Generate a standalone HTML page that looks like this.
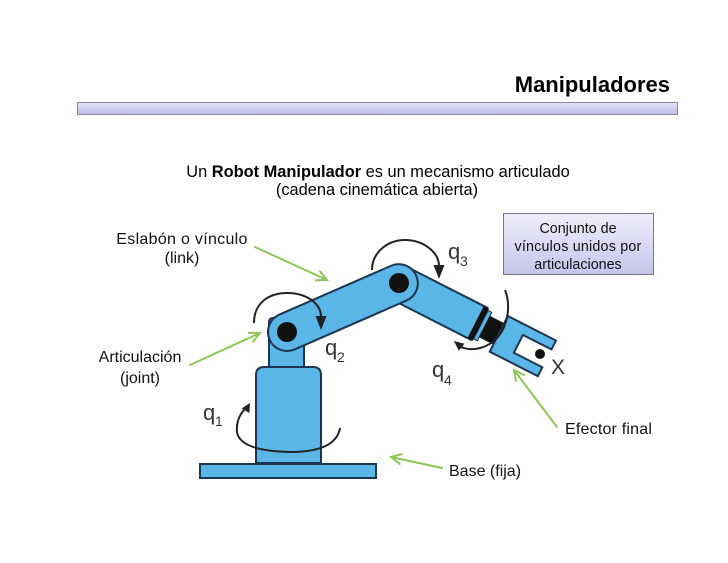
<!DOCTYPE html>
<html><head><meta charset="utf-8"><style>
html,body{margin:0;padding:0;background:#fff;}
svg{display:block;}
text{font-family:"Liberation Sans",Arial,sans-serif;}
</style></head><body>
<svg width="728" height="563" viewBox="0 0 728 563" xmlns="http://www.w3.org/2000/svg">
<defs>
<linearGradient id="bar" x1="0" y1="0" x2="0" y2="1">
<stop offset="0" stop-color="#e2e2f7"/><stop offset="1" stop-color="#babae8"/>
</linearGradient>
<linearGradient id="box" x1="0" y1="0" x2="0" y2="1">
<stop offset="0" stop-color="#efeffb"/><stop offset="1" stop-color="#c4c4ec"/>
</linearGradient>
</defs>
<rect width="728" height="563" fill="#fff"/>
<text x="670" y="92" text-anchor="end" font-size="22" font-weight="bold" fill="#000">Manipuladores</text>
<rect x="77.5" y="102.5" width="600" height="12" fill="url(#bar)" stroke="#8a8a9a" stroke-width="1"/>

<text x="378" y="177" text-anchor="middle" font-size="16.4" fill="#000">Un <tspan font-weight="bold">Robot Manipulador</tspan> es un mecanismo articulado</text>
<text x="377" y="195" text-anchor="middle" font-size="16.4" fill="#000">(cadena cinemática abierta)</text>

<rect x="503.5" y="213.5" width="150" height="61" fill="url(#box)" stroke="#777790" stroke-width="1"/>
<text x="578" y="233" text-anchor="middle" font-size="14.3" fill="#111">Conjunto de</text>
<text x="578" y="251" text-anchor="middle" font-size="14.3" fill="#111" letter-spacing="0.2">vínculos unidos por</text>
<text x="578" y="269" text-anchor="middle" font-size="14.3" fill="#111">articulaciones</text>

<text x="182" y="244" text-anchor="middle" font-size="16" fill="#111" letter-spacing="0.3">Eslabón o vínculo</text>
<text x="182" y="263" text-anchor="middle" font-size="16" fill="#111">(link)</text>
<text x="140" y="362" text-anchor="middle" font-size="16" fill="#111">Articulación</text>
<text x="140" y="383" text-anchor="middle" font-size="16" fill="#111">(joint)</text>
<text x="565" y="434" font-size="16" fill="#111" letter-spacing="0.2">Efector final</text>
<text x="449" y="476" font-size="16" fill="#111">Base (fija)</text>

<!-- robot -->
<g stroke="#1c3550" stroke-width="2" fill="#5ab6e6">
<rect x="200" y="464" width="176" height="14"/>
<path d="M256,463 L256,375 Q256,367 264,367 L313,367 Q321,367 321,375 L321,463 Z"/>
<path d="M269,367 L269,322 Q269,318 273,318 L300,318 Q304,318 304,322 L304,367 Z"/>
</g>
<!-- q1 arc -->
<path d="M340,428 Q336,452 290,452 Q240,451 237,432 Q236,419 244,410" fill="none" stroke="#222" stroke-width="2"/>
<polygon points="250,403 241.6,408.5 249.4,413" fill="#222"/>

<!-- link2 + wrist + gripper -->
<g transform="translate(399,283) rotate(27)">
<path d="M90,-18 L0,-18 A18,18 0 0 0 0,18 L90,18 Z" fill="#5ab6e6" stroke="#1c3550" stroke-width="2"/>
<rect x="86" y="-18" width="6" height="36" fill="#111"/>
<rect x="92" y="-16" width="4" height="32" fill="#5ab6e6" stroke="#1c3550" stroke-width="1"/>
<rect x="96" y="-12" width="18" height="24" fill="#111"/>
<path d="M112,-20 L166,-20 L166,-10 L134,-10 L134,10 L166,10 L166,20 L112,20 Z" fill="#5ab6e6" stroke="#1c3550" stroke-width="2"/>
</g>
<circle cx="540" cy="354" r="5" fill="#111"/>

<!-- link1 -->
<g transform="translate(287,332) rotate(-23.6)">
<rect x="-19" y="-19" width="160" height="38" rx="19" ry="19" fill="#5ab6e6" stroke="#1c3550" stroke-width="2"/>
</g>
<circle cx="287" cy="332" r="10" fill="#111"/>
<circle cx="399" cy="283" r="10" fill="#111"/>

<!-- q2 arc -->
<path d="M254,323 C254,302 270,293 287,293 C306,293 321,303 321,317" fill="none" stroke="#222" stroke-width="2"/>
<polygon points="321,330 315.5,316 326.5,316" fill="#222"/>
<!-- q3 arc -->
<path d="M372,270 C372,252 388,240 405,240 C423,240 439,252 439,266" fill="none" stroke="#222" stroke-width="2"/>
<polygon points="439,279 433.5,265 444.5,265" fill="#222"/>
<!-- q4 arc -->
<path d="M505,290 C511,305 508,325 498,337 C488,348 473,352 461,347" fill="none" stroke="#222" stroke-width="2"/>
<polygon points="454,341 464.5,343.8 458.9,350.8" fill="#222"/>

<!-- q labels -->
<g fill="#333">
<text x="203" y="420" font-size="22">q</text><text x="215" y="426" font-size="14">1</text>
<text x="325" y="355" font-size="22">q</text><text x="337" y="362" font-size="14">2</text>
<text x="448" y="259" font-size="22">q</text><text x="460" y="266" font-size="14">3</text>
<text x="432" y="377" font-size="22">q</text><text x="444" y="385" font-size="14">4</text>
<text x="551" y="374" font-size="21">X</text>
</g>

<!-- green arrows -->
<g stroke="#8cc65a" stroke-width="2" fill="none" stroke-linecap="round">
<line x1="255" y1="247" x2="327" y2="280"/><polyline points="315.8,280.3 327,280 320,271.3"/>
<line x1="190" y1="365" x2="260" y2="333"/><polyline points="253,341.7 260,333 248.8,332.7"/>
<line x1="557" y1="427" x2="514" y2="370"/><polyline points="524,375 514,370 516,381"/>
<line x1="442" y1="468" x2="391" y2="457"/><polyline points="401.8,454.2 391,457 399.7,464"/>
</g>
</svg>
</body></html>
